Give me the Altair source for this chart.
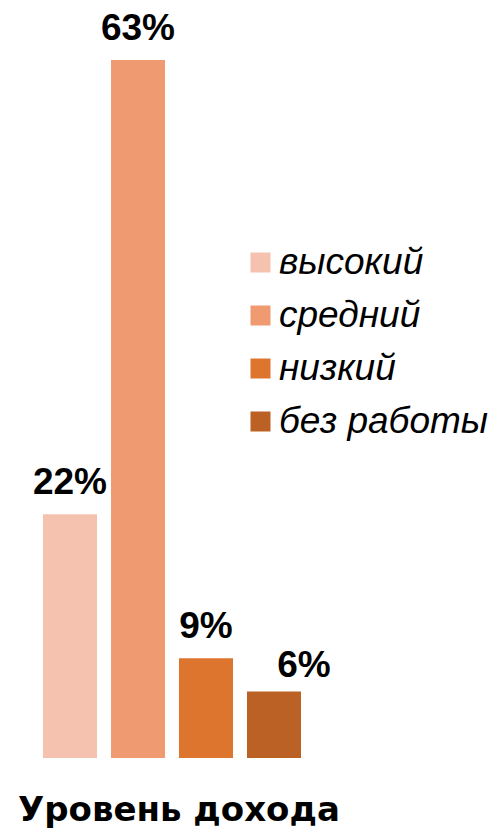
import altair as alt
import pandas as pd

categories = ["высокий", "средний", "низкий", "без работы"]
values = [22, 63, 9, 6]
labels = ["22%", "63%", "9%", "6%"]
colors = ["#F5C2B0", "#F09A71", "#DE752F", "#BB6125"]
title_text = "Уровень дохода"

df = pd.DataFrame({"cat": categories, "val": values, "lab": labels})

x = alt.X("cat:N", sort=categories, axis=None,
          scale=alt.Scale(range=[36, 308], paddingInner=14/68, paddingOuter=7/68))
y = alt.Y("val:Q", axis=None, scale=alt.Scale(domain=[0, 68.41], range=[758, 0], nice=False, zero=True))

bars = alt.Chart(df).mark_bar(size=54).encode(
    x=x, y=y,
    color=alt.Color("cat:N", sort=categories,
                    scale=alt.Scale(domain=categories, range=colors),
                    legend=alt.Legend(
                        title=None, orient="none", legendX=242, legendY=244,
                        symbolType="square", symbolSize=400, symbolStrokeWidth=0,
                        labelFont="Liberation Sans", labelFontStyle="italic",
                        labelFontSize=37, labelColor="#000000", labelOffset=0,
                        labelLimit=400, rowPadding=15, padding=0)),
)

text_main = alt.Chart(df).transform_filter(
    alt.datum.cat != categories[3]
).mark_text(font="Liberation Sans", fontWeight="bold", fontSize=37,
            baseline="alphabetic", dy=-20, color="#000000").encode(
    x=x, y=y, text="lab:N")

text_last = alt.Chart(df).transform_filter(
    alt.datum.cat == categories[3]
).mark_text(font="Liberation Sans", fontWeight="bold", fontSize=37,
            baseline="alphabetic", dy=-15, dx=30, color="#000000").encode(
    x=x, y=y, text="lab:N")

chart = alt.layer(bars, text_main, text_last).properties(
    width=496, height=758,
    autosize=alt.AutoSizeParams(type="none"),
    padding={"left": 0, "right": 0, "top": 0, "bottom": 73},
    title=alt.TitleParams(title_text, orient="bottom", anchor="start", frame="group",
                          font="DejaVu Sans", fontWeight="bold", fontSize=34,
                          color="#000000", baseline="alphabetic", offset=63, dx=18),
).configure(background="white", view=alt.ViewConfig(stroke=None, strokeWidth=0))

chart.save("out.html", embed_options={"renderer": "svg", "actions": False})
